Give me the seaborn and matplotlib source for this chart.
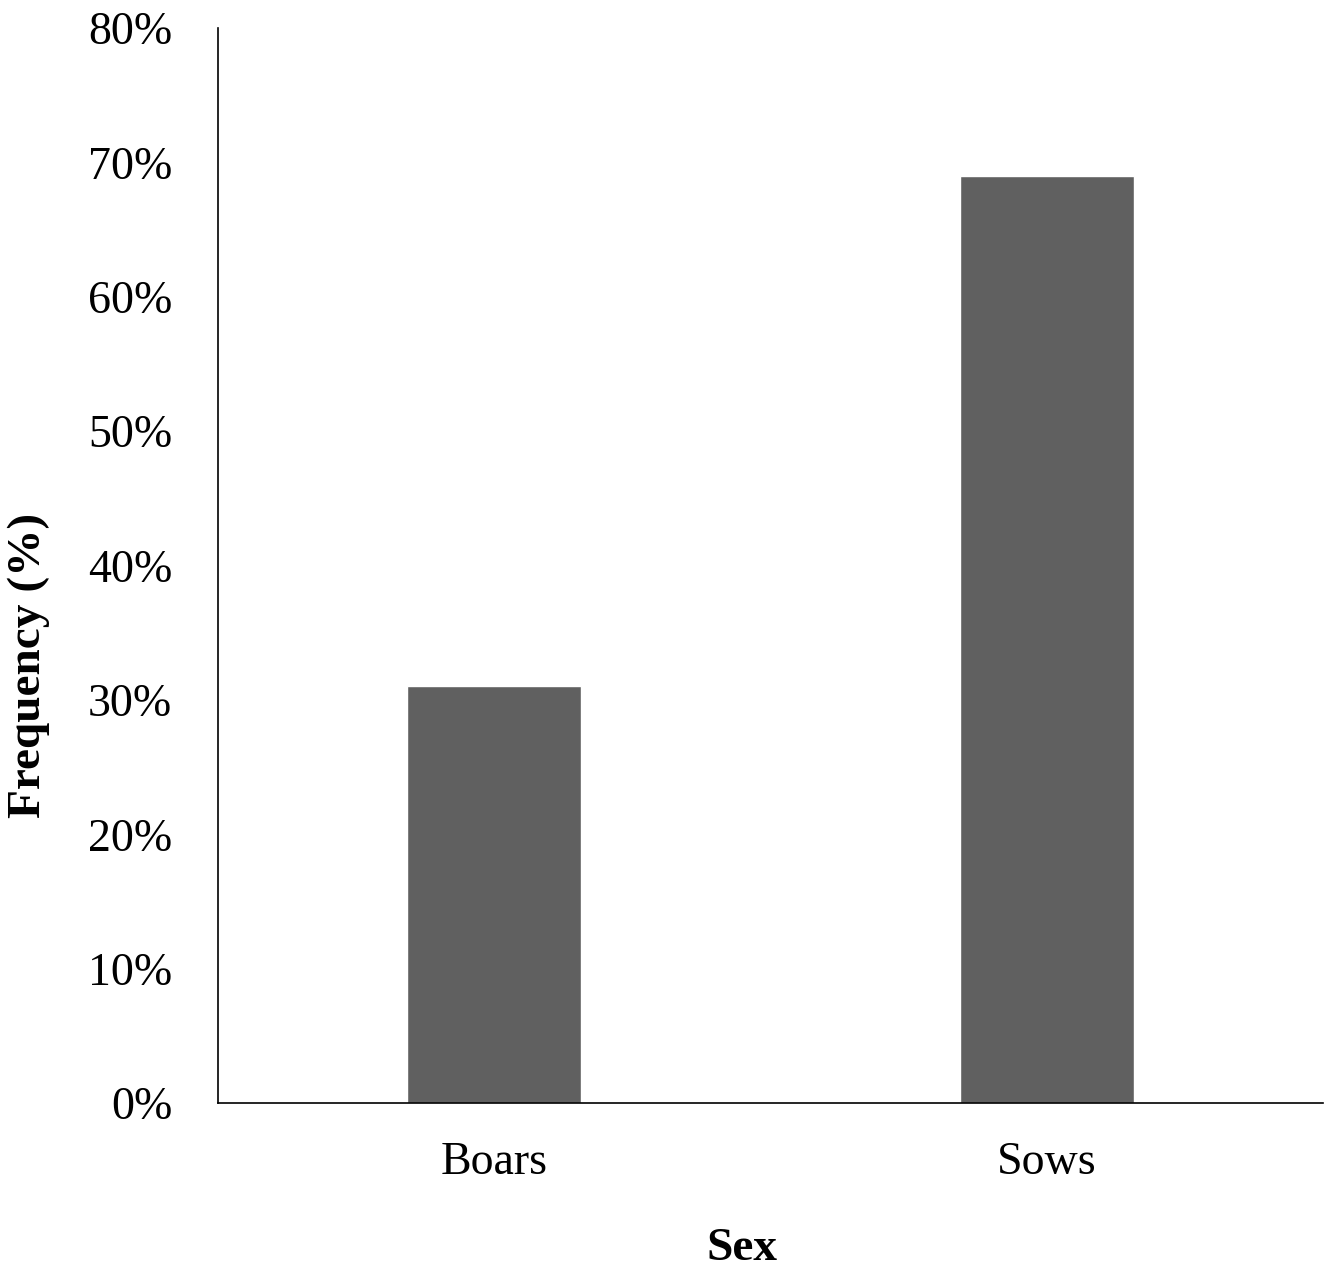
import pandas as pd
import matplotlib.pyplot as plt
import seaborn as sns
from matplotlib.ticker import PercentFormatter

# data
sexes = ['Boars', 'Sows']
frequency = [0.31, 0.69]

sns.set_style('white')
plt.rcParams['font.family'] = ['Liberation Serif', 'DejaVu Serif']

df = pd.DataFrame({'Sex': sexes, 'Frequency': frequency})

fig = plt.figure(figsize=(13.35, 12.74), dpi=100)
ax = fig.add_axes([0.1633, 0.1342, 0.8278, 0.8438])

sns.barplot(data=df, x='Sex', y='Frequency', color='#606060', saturation=1,
            width=0.315, ax=ax)

ax.set_ylim(0, 0.8)
ax.set_xlim(-0.5, 1.5)
ax.set_yticks([i / 10 for i in range(9)])
ax.yaxis.set_major_formatter(PercentFormatter(xmax=1, decimals=0))
ax.tick_params(axis='both', length=0, labelsize=33, colors='black')
ax.tick_params(axis='y', pad=33)
ax.tick_params(axis='x', pad=28)

for side in ['top', 'right']:
    ax.spines[side].set_visible(False)
for side in ['left', 'bottom']:
    ax.spines[side].set_color('black')
    ax.spines[side].set_linewidth(1.2)

ax.set_xlabel('Sex', fontsize=34, fontweight='bold', color='black')
ax.set_ylabel('Frequency (%)', fontsize=34, fontweight='bold', color='black')
# labels sit off-centre in the original
ax.xaxis.set_label_coords(0.474, -0.116)
ax.yaxis.set_label_coords(-0.152, 0.407)

fig.savefig('out.png', dpi=100)
